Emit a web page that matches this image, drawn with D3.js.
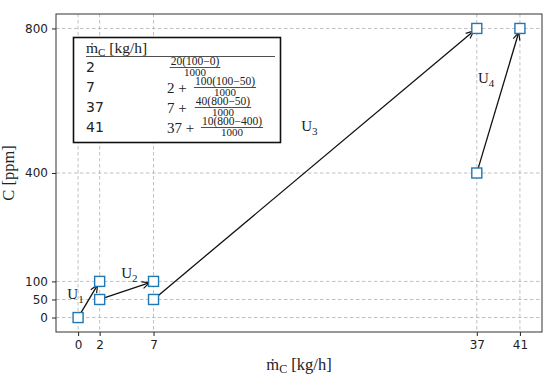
<!DOCTYPE html>
<html>
<head>
<meta charset="utf-8">
<script src="https://cdn.jsdelivr.net/npm/d3@7"></script>
<style>
  body { margin: 0; background: #fff; }
  svg { display: block; }
  .tick text { font-family: "DejaVu Sans", sans-serif; font-size: 12px; fill: #222; }
  .math { font-family: "Liberation Serif", "DejaVu Serif", serif; fill: #222; }
</style>
</head>
<body>
<svg id="chart" width="550" height="380"></svg>
<script>
'use strict';
// point data (mass flow kg/h, concentration ppm)
const flowValues = [0, 2, 2, 7, 7, 37, 37, 41];
const concValues = [0, 50, 100, 50, 100, 400, 800, 800];
const xTicks = [0, 2, 7, 37, 41];
const yTicks = [0, 50, 100, 400, 800];

// arrows: [from index, to index] into the point arrays
const arrowFrom = [0, 1, 3, 5];
const arrowTo = [2, 4, 6, 7];
const arrowLabels = ['1', '2', '3', '4'];
const labelAt = [[-1.0, 52], [4.0, 110], [20.7, 515], [37.1, 650]];

// table contents
const tableFlows = ['2', '7', '37', '41'];
const tablePrefix = ['', '2 +', '7 +', '37 +'];
const tableNumer = ['20(100\u22120)', '100(100\u221250)', '40(800\u221250)', '10(800\u2212400)'];
const tableDenom = ['1000', '1000', '1000', '1000'];

const margin = { top: 14, right: 8, bottom: 48, left: 56 };
const width = 550 - margin.left - margin.right;
const height = 380 - margin.top - margin.bottom;

const svg = d3.select('#chart');
const g = svg.append('g').attr('transform', 'translate(' + margin.left + ',' + margin.top + ')');

const x = d3.scaleLinear().domain([-2.05, 43.05]).range([0, width]);
const y = d3.scaleLinear().domain([-40, 840]).range([height, 0]);

// grid
g.append('g').selectAll('line').data(xTicks).enter().append('line')
    .attr('x1', d => x(d)).attr('x2', d => x(d))
    .attr('y1', 0).attr('y2', height)
    .attr('stroke', '#b0b0b0').attr('stroke-width', 0.8).attr('stroke-dasharray', '3.5,2.5');
g.append('g').selectAll('line').data(yTicks).enter().append('line')
    .attr('y1', d => y(d)).attr('y2', d => y(d))
    .attr('x1', 0).attr('x2', width)
    .attr('stroke', '#b0b0b0').attr('stroke-width', 0.8).attr('stroke-dasharray', '3.5,2.5');

// axes
const xAxis = g.append('g').attr('transform', 'translate(0,' + height + ')')
    .call(d3.axisBottom(x).tickValues(xTicks).tickSize(4).tickPadding(4).tickFormat(d3.format('d')));
const yAxis = g.append('g')
    .call(d3.axisLeft(y).tickValues(yTicks).tickSize(4).tickPadding(4).tickFormat(d3.format('d')));
[xAxis, yAxis].forEach(a => {
    a.select('.domain').remove();
    a.selectAll('.tick line').attr('stroke', '#222').attr('stroke-width', 1);
});

// frame
g.append('rect').attr('width', width).attr('height', height)
    .attr('fill', 'none').attr('stroke', '#333').attr('stroke-width', 1);

// arrowhead
svg.append('defs').append('marker')
    .attr('id', 'head').attr('markerUnits', 'userSpaceOnUse')
    .attr('viewBox', '0 0 10 10').attr('refX', 9.5).attr('refY', 5)
    .attr('markerWidth', 9).attr('markerHeight', 9).attr('orient', 'auto')
    .append('path').attr('d', 'M1,1.2 L9.5,5 L1,8.8')
    .attr('fill', 'none').attr('stroke', '#111').attr('stroke-width', 1.3);

const shrink = 4;
g.append('g').selectAll('line').data(arrowFrom).enter().append('line')
    .each(function (a, i) {
        const b = arrowTo[i];
        const x0 = x(flowValues[a]), y0 = y(concValues[a]);
        const x1 = x(flowValues[b]), y1 = y(concValues[b]);
        const len = Math.hypot(x1 - x0, y1 - y0);
        const ux = (x1 - x0) / len, uy = (y1 - y0) / len;
        d3.select(this)
            .attr('x1', x0 + ux * shrink).attr('y1', y0 + uy * shrink)
            .attr('x2', x1 - ux * shrink).attr('y2', y1 - uy * shrink);
    })
    .attr('stroke', '#111').attr('stroke-width', 1.3)
    .attr('marker-end', 'url(#head)');

// markers
g.append('g').selectAll('rect').data(flowValues).enter().append('rect')
    .attr('x', (d, i) => x(d) - 5).attr('y', (d, i) => y(concValues[i]) - 5)
    .attr('width', 10).attr('height', 10)
    .attr('fill', '#fff').attr('stroke', '#1f77b4').attr('stroke-width', 1.4);

// arrow labels U_i
const lab = g.append('g').selectAll('text').data(arrowLabels).enter().append('text')
    .attr('class', 'math').attr('font-size', 15)
    .attr('x', (d, i) => x(labelAt[i][0])).attr('y', (d, i) => y(labelAt[i][1]));
lab.append('tspan').text('U');
lab.append('tspan').attr('font-size', 11).attr('dy', 4).text(d => d);

// axis labels
const xl = svg.append('text').attr('class', 'math').attr('font-size', 16.5)
    .attr('x', margin.left + width / 2).attr('y', 370).attr('text-anchor', 'middle');
xl.append('tspan').text('\u1E41');
xl.append('tspan').attr('font-size', 12).attr('dy', 3).text('C');
xl.append('tspan').attr('dy', -3).text(' [kg/h]');

svg.append('text').attr('class', 'math').attr('font-size', 16.5)
    .attr('transform', 'translate(14,' + (margin.top + height / 2) + ') rotate(-90)')
    .attr('text-anchor', 'middle').text('C [ppm]');

// table box
const tbl = svg.append('g');
tbl.append('rect').attr('x', 73.5).attr('y', 37.5).attr('width', 207).attr('height', 105)
    .attr('fill', '#fff').attr('stroke', '#111').attr('stroke-width', 1.6);
const hd = tbl.append('text').attr('class', 'math').attr('font-size', 15.5).attr('x', 86).attr('y', 53);
hd.append('tspan').text('\u1E41');
hd.append('tspan').attr('font-size', 11).attr('dy', 3).text('C');
hd.append('tspan').attr('dy', -3).text(' [kg/h]');
tbl.append('line').attr('x1', 86).attr('x2', 275).attr('y1', 56.5).attr('y2', 56.5)
    .attr('stroke', '#222').attr('stroke-width', 0.8);

const rowY = d3.scaleLinear().domain([0, 3]).range([67, 127]);
const rows = tbl.selectAll('g.row').data(tableFlows).enter().append('g').attr('class', 'row')
    .attr('transform', (d, i) => 'translate(0,' + rowY(i) + ')');
rows.append('text').attr('x', 86).attr('y', 5)
    .attr('font-family', '"DejaVu Sans", sans-serif').attr('font-size', 14).attr('fill', '#222')
    .text(d => d);
rows.append('text').attr('class', 'math').attr('font-size', 15).attr('x', 167).attr('y', 5.5)
    .attr('xml:space', 'preserve')
    .text((d, i) => tablePrefix[i]);
// fractions: centre of each one, after its prefix
const fracCx = [195, 225, 223, 232];
rows.each(function (d, i) {
    const r = d3.select(this);
    const numText = r.append('text').attr('class', 'math').attr('font-size', 11.5)
        .attr('x', fracCx[i]).attr('y', -2).attr('text-anchor', 'middle').text(tableNumer[i]);
    const w = numText.node().getComputedTextLength();
    r.append('line').attr('x1', fracCx[i] - w / 2 - 1).attr('x2', fracCx[i] + w / 2 + 1)
        .attr('y1', 0.5).attr('y2', 0.5).attr('stroke', '#222').attr('stroke-width', 0.8);
    r.append('text').attr('class', 'math').attr('font-size', 11)
        .attr('x', fracCx[i]).attr('y', 8.5).attr('text-anchor', 'middle').text(tableDenom[i]);
});
</script>
</body>
</html>
